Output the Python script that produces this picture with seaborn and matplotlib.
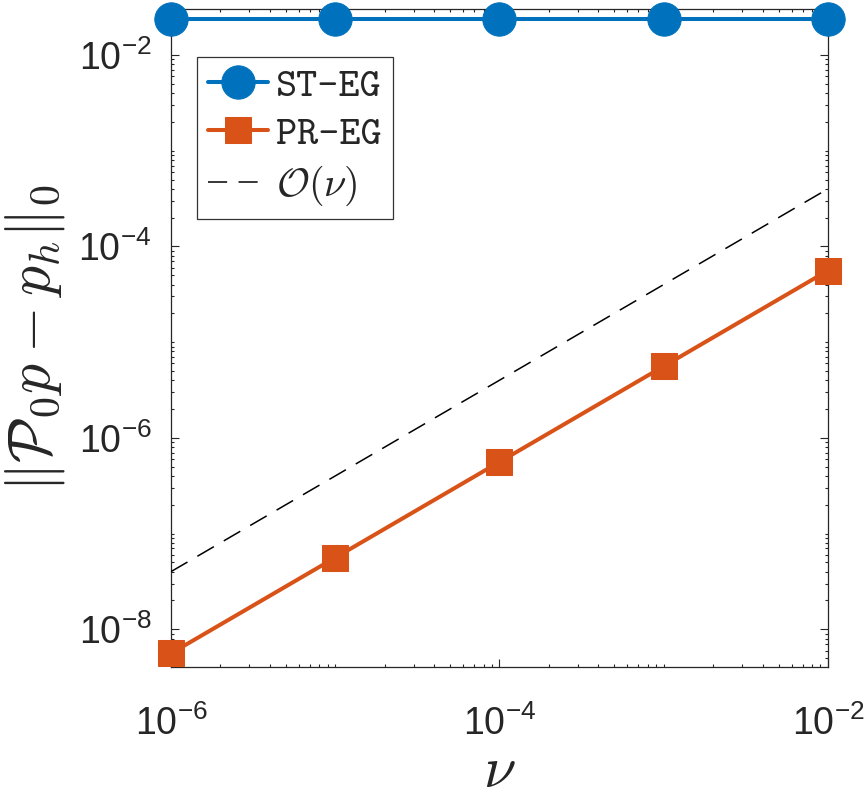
import numpy as np
import pandas as pd
import seaborn as sns
import matplotlib
matplotlib.use("Agg")
import matplotlib.pyplot as plt
from matplotlib.ticker import LogLocator, NullFormatter

# data
nu = [1e-6, 1e-5, 1e-4, 1e-3, 1e-2]
st_eg = [0.0236, 0.0236, 0.0236, 0.0236, 0.0236]
pr_eg = [5.6e-9, 5.6e-8, 5.6e-7, 5.6e-6, 5.6e-5]
ref_nu = [1e-6, 1e-2]
ref_order = [4e-8, 4e-4]

blue = "#0072BD"
orange = "#D95319"
dark = "#262626"

sns.set_style("white")
plt.rcParams["font.family"] = ["Liberation Sans", "DejaVu Sans"]
plt.rcParams["mathtext.fontset"] = "cm"

fig = plt.figure(figsize=(8.67, 7.98), dpi=100)
ax = fig.add_axes([0.1972, 0.1646, 0.7578, 0.8237])
ax.set_xscale("log")
ax.set_yscale("log")

df_st = pd.DataFrame({"nu": nu, "err": st_eg})
df_pr = pd.DataFrame({"nu": nu, "err": pr_eg})
df_ref = pd.DataFrame({"nu": ref_nu, "err": ref_order})

sns.lineplot(data=df_st, x="nu", y="err", ax=ax, color=blue, marker="o",
             markersize=24, markeredgecolor=blue, linewidth=2.9,
             label="ST-EG", clip_on=False, zorder=3)
sns.lineplot(data=df_pr, x="nu", y="err", ax=ax, color=orange, marker="s",
             markersize=19, markeredgecolor=orange, linewidth=2.9,
             label="PR-EG", clip_on=False, zorder=3)
sns.lineplot(data=df_ref, x="nu", y="err", ax=ax, color="black",
             linewidth=1.1, linestyle=(0, (12.5, 7.5)),
             label=r"$\mathcal{O}(\nu)$", zorder=3)

ax.set_xlim(1e-6, 1e-2)
ax.set_ylim(4.07e-9, 0.030)

ax.set_xticks([1e-6, 1e-4, 1e-2])
ax.set_yticks([1e-8, 1e-6, 1e-4, 1e-2])
ax.xaxis.set_minor_locator(LogLocator(base=10, subs=np.arange(1, 10), numticks=50))
ax.yaxis.set_minor_locator(LogLocator(base=10, subs=np.arange(1, 10), numticks=50))
ax.xaxis.set_minor_formatter(NullFormatter())
ax.yaxis.set_minor_formatter(NullFormatter())

ax.tick_params(which="both", direction="in", top=True, right=True,
               bottom=True, left=True, colors=dark, labelcolor=dark, width=0.8)
ax.tick_params(which="major", length=5.5, labelsize=27)
ax.tick_params(which="minor", length=2.4)
ax.tick_params(axis="x", which="major", pad=28)
ax.tick_params(axis="y", which="major", pad=14)

for s in ax.spines.values():
    s.set_color(dark)
    s.set_linewidth(0.9)
    s.set_visible(True)

ax.set_xlabel(r"$\nu$", fontsize=42, color=dark, labelpad=1)
ax.set_ylabel(r"$\|\mathcal{P}_0 p - p_h\|_0$", fontsize=43, color=dark, labelpad=8)

leg = ax.legend(loc="upper left", bbox_to_anchor=(0.0396, 0.9275),
                borderaxespad=0, frameon=True, fancybox=False,
                edgecolor="black", handlelength=1.5, handletextpad=0.2,
                labelspacing=0.27, borderpad=0.27,
                prop={"family": ["cmtt10", "DejaVu Sans Mono"], "size": 29})
leg.get_frame().set_linewidth(0.9)

fig.savefig("out.png", dpi=100)
